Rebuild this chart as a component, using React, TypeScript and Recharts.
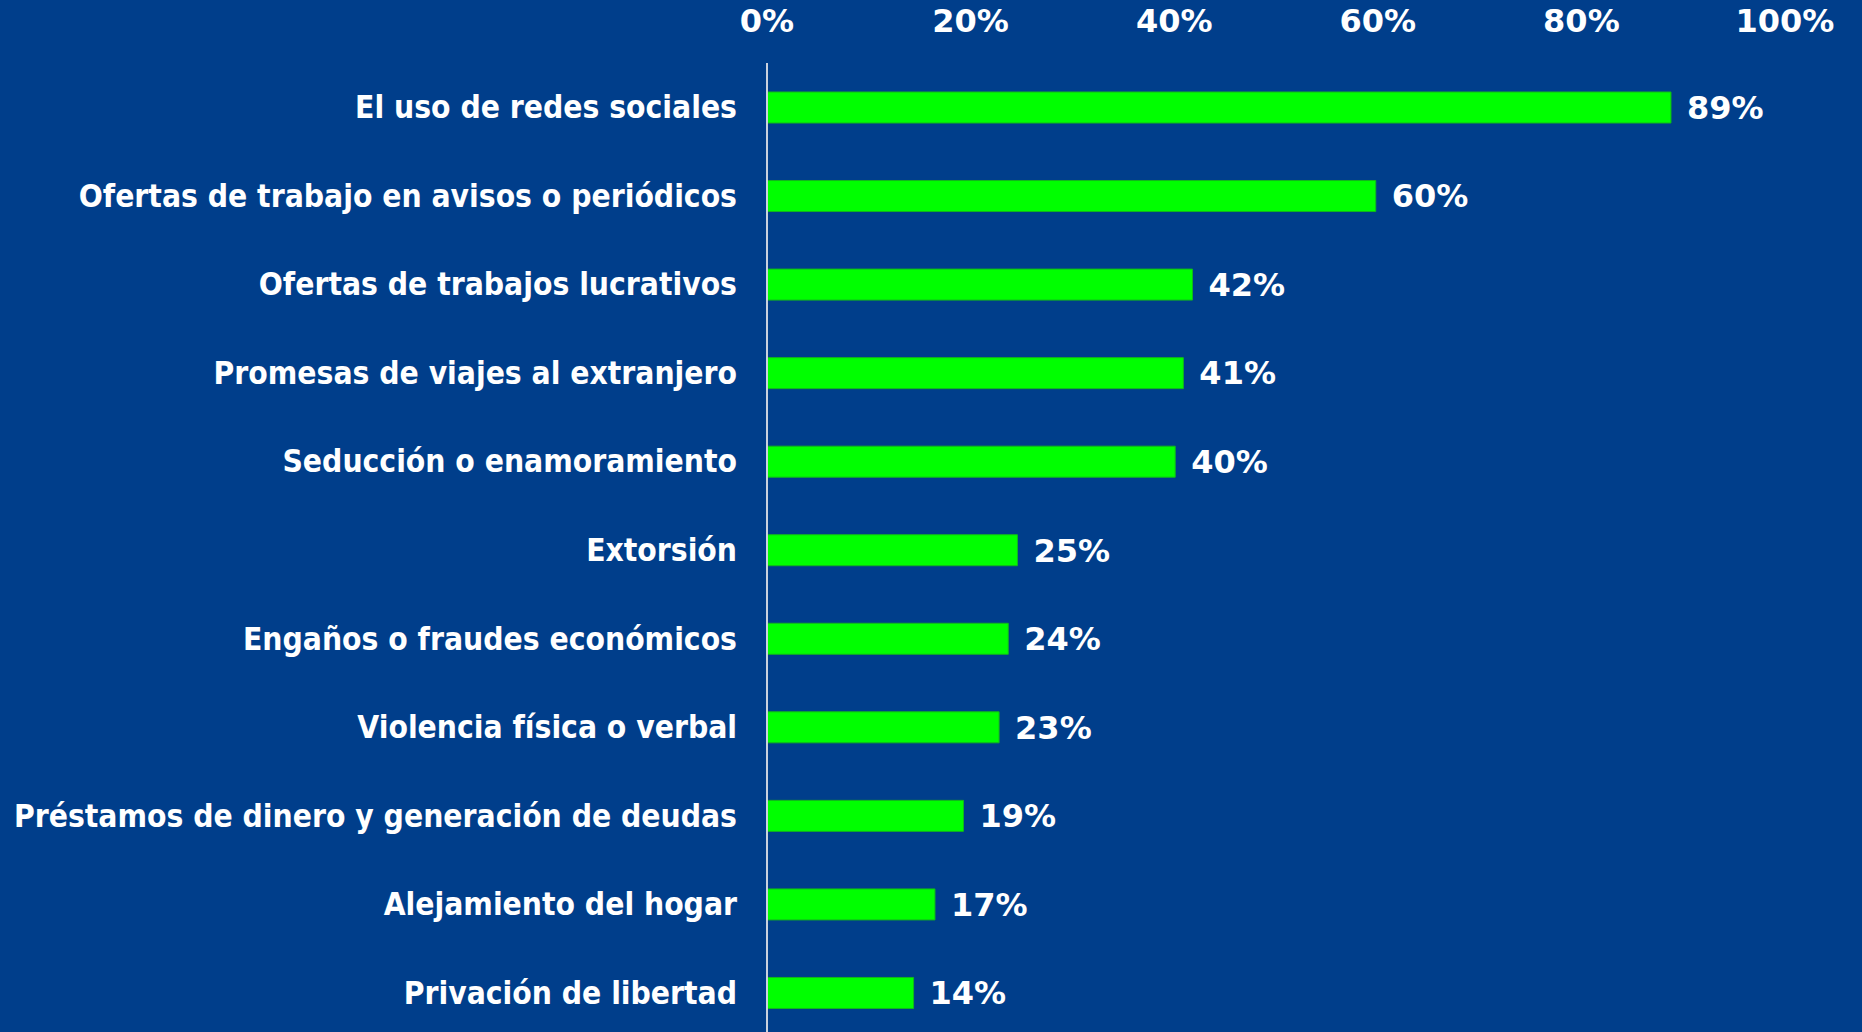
import { Bar, BarChart, LabelList, XAxis, YAxis } from 'recharts';

const categories = [
  'El uso de redes sociales',
  'Ofertas de trabajo en avisos o periódicos',
  'Ofertas de trabajos lucrativos',
  'Promesas de viajes al extranjero',
  'Seducción o enamoramiento',
  'Extorsión',
  'Engaños o fraudes económicos',
  'Violencia física o verbal',
  'Préstamos de dinero y generación de deudas',
  'Alejamiento del hogar',
  'Privación de libertad',
];

// bar lengths; labels show the rounded value
const values = [88.8, 59.8, 41.8, 40.9, 40.1, 24.6, 23.7, 22.8, 19.3, 16.5, 14.4];

const xTicks = [0, 20, 40, 60, 80, 100];

const data = categories.map((name, i) => ({ name, value: values[i] }));

const FONT = '"DejaVu Sans", Verdana, sans-serif';
const FONT_COND = '"DejaVu Sans Condensed", "DejaVu Sans", sans-serif';

const XTick = ({ x, payload }: any) => (
  <text
    x={x}
    y={32}
    textAnchor="middle"
    fill="#fff"
    fontFamily={FONT}
    fontWeight="bold"
    fontSize={32}
  >
    {payload.value}%
  </text>
);

const YTick = ({ x, y, payload }: any) => (
  <text
    x={x - 22}
    y={y}
    dy={11}
    textAnchor="end"
    fill="#fff"
    fontFamily={FONT_COND}
    fontWeight="bold"
    fontSize={31.5}
    style={{ fontStretch: 'condensed' }}
  >
    {payload.value}
  </text>
);

export default function App() {
  return (
    <div
      style={{
        width: 1862,
        height: 1032,
        overflow: 'hidden',
        background: '#003E8B',
      }}
    >
      <style>{'body{margin:0}'}</style>
      <BarChart
        width={1862}
        height={1042}
        data={data}
        layout="vertical"
        margin={{ top: 0, right: 77, left: 0, bottom: 5 }}
      >
        <XAxis
          type="number"
          orientation="top"
          domain={[0, 100]}
          ticks={xTicks}
          height={63}
          axisLine={false}
          tickLine={false}
          tick={<XTick />}
        />
        <YAxis
          type="category"
          dataKey="name"
          width={767}
          axisLine={{ stroke: '#c9d1de', strokeWidth: 2 }}
          tickLine={false}
          tick={<YTick />}
          interval={0}
        />
        <Bar
          dataKey="value"
          fill="#00ff00"
          stroke="#12b81a"
          strokeWidth={1}
          barSize={31}
          isAnimationActive={false}
        >
          <LabelList
            dataKey="value"
            position="right"
            offset={16}
            formatter={(v: any) => `${Math.round(v)}%`}
            fill="#fff"
            fontFamily={FONT}
            fontWeight="bold"
            fontSize={32}
          />
        </Bar>
      </BarChart>
    </div>
  );
}
